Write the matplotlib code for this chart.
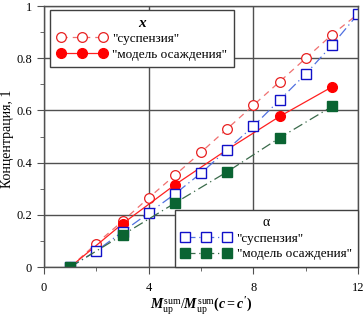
import matplotlib
matplotlib.use("Agg")
import matplotlib.pyplot as plt
from matplotlib.ticker import MultipleLocator

plt.rcParams['font.family'] = ['Liberation Serif', 'DejaVu Serif']
plt.rcParams['mathtext.fontset'] = 'custom'
plt.rcParams['mathtext.rm'] = 'Liberation Serif'
plt.rcParams['mathtext.it'] = 'Liberation Serif:italic:bold'
plt.rcParams['mathtext.bf'] = 'Liberation Serif:bold'

# data
x_susp = [1, 2, 3, 4, 5, 6, 7, 8, 9, 10, 11, 12]
xc_susp = [0, 0.09, 0.176, 0.265, 0.352, 0.44, 0.53, 0.62, 0.71, 0.80, 0.89, 0.97]
alpha_susp = [0, 0.062, 0.135, 0.207, 0.28, 0.36, 0.45, 0.54, 0.64, 0.74, 0.85, 0.97]
x_model = [1, 3, 5, 7, 9, 11]
xc_model = [0, 0.166, 0.315, 0.45, 0.577, 0.69]
alpha_model = [0, 0.123, 0.245, 0.365, 0.495, 0.615]

lbl_susp = '"суспензия"'
lbl_model = '"модель осаждения"'

fig = plt.figure(figsize=(3.64, 3.16), dpi=100)
ax = fig.add_axes([0.121, 0.155, 0.863, 0.826])

l1, = ax.plot(x_susp, xc_susp, color='#f07070', ls=(0, (5, 4)), lw=0.9,
              marker='o', ms=7, mfc='white', mec='#e82020', mew=0.9, label=lbl_susp)
l2, = ax.plot(x_model, xc_model, color='#ff2020', ls='-', lw=0.9,
              marker='o', ms=7, mfc='#ff0000', mec='#ff0000', label=lbl_model)
l3, = ax.plot(x_susp, alpha_susp, color='#5070e0', ls=(0, (8, 3, 1, 3)), lw=0.9,
              marker='s', ms=6.5, mfc='white', mec='#1010c8', mew=1.0, label=lbl_susp)
l4, = ax.plot(x_model, alpha_model, color='#3a6a4a', ls=(0, (8, 3, 1, 3)), lw=0.9,
              marker='s', ms=6.5, mfc='#0a6432', mec='#0a6432', label=lbl_model)

ax.set_xlim(0, 12)
ax.set_ylim(0, 1)
ax.xaxis.set_minor_locator(MultipleLocator(2))
ax.yaxis.set_minor_locator(MultipleLocator(0.1))
ax.set_yticks([0, 0.2, 0.4, 0.6, 0.8, 1])
ax.set_yticklabels(['0', '0.2', '0.4', '0.6', '0.8', '1'])
ax.set_xticks([0, 4, 8, 12])
ax.set_xticklabels(['0', '4', '8', '12'])
ax.grid(True, which='major', color='#505050', lw=1.0)
ax.set_axisbelow(True)
for s in ax.spines.values():
    s.set_color('#505050')
    s.set_linewidth(1.0)
ax.tick_params(which='both', direction='out', colors='#505050', labelcolor='black',
               labelsize=9)
ax.tick_params(which='major', length=5)
ax.tick_params(which='minor', length=3)
ax.tick_params(axis='x', pad=6)

ax.set_ylabel('Концентрация, 1', fontsize=10)
ax.yaxis.set_label_coords(-0.095, 0.49)
ax.set_xlabel(r'$M_{\mathrm{up}}^{\mathrm{sum}}/M_{\mathrm{up}}^{\mathrm{sum}}\mathbf{(}c\mathbf{=}c\mathbf{^\prime)}$',
              fontsize=10, labelpad=1)

leg1 = ax.legend(handles=[l1, l2], title='x', loc='upper left',
                 bbox_to_anchor=(0.019, 0.985), borderaxespad=0, numpoints=3,
                 handlelength=3.8, fontsize=9.5, frameon=True, fancybox=False,
                 edgecolor='#404040', framealpha=1, borderpad=0.5,
                 handletextpad=0.4, labelspacing=0.25)
leg1.get_title().set_fontstyle('italic')
leg1.get_title().set_fontweight('bold')
leg1.get_title().set_fontsize(11)
leg1.get_frame().set_linewidth(1.0)
ax.add_artist(leg1)

leg2 = ax.legend(handles=[l3, l4], title='α', loc='lower right',
                 bbox_to_anchor=(1.0, 0.0), borderaxespad=0, numpoints=3,
                 handlelength=3.8, fontsize=9.5, frameon=True, fancybox=False,
                 edgecolor='#404040', framealpha=1, borderpad=0.5,
                 handletextpad=0.4, labelspacing=0.25)
leg2.get_title().set_fontsize(10)
leg2.get_frame().set_linewidth(1.0)

fig.savefig('out.png', dpi=100)
